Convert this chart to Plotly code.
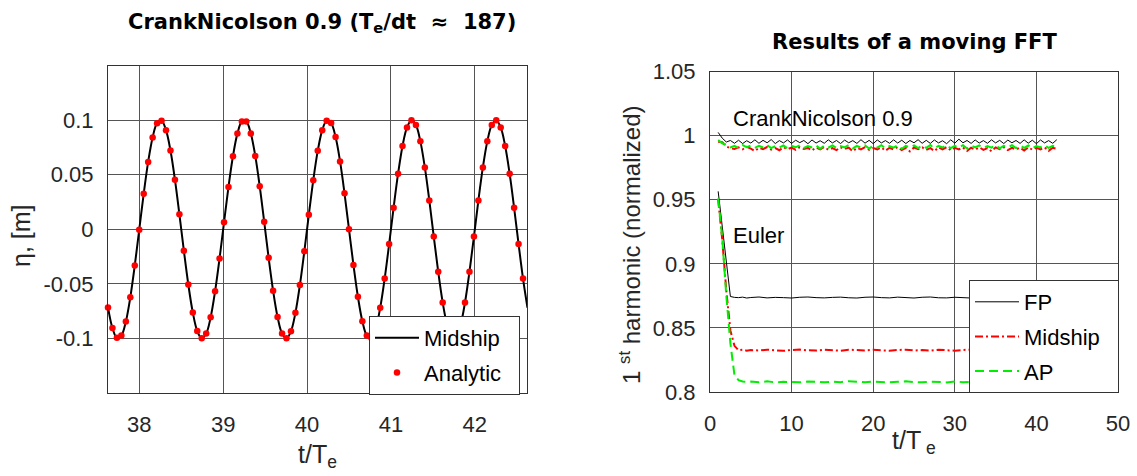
import plotly.graph_objects as go

# ---------------------------------------------------------------------------
# Left panel: wave elevation at midship vs. analytic solution (t/Te)
# ---------------------------------------------------------------------------
t_samples = [
    37.6270, 37.6802, 37.7334, 37.7866, 37.8398, 37.8930, 37.9462, 37.9994,
    38.0526, 38.1058, 38.1590, 38.2122, 38.2654, 38.3186, 38.3718, 38.4250,
    38.4782, 38.5314, 38.5846, 38.6378, 38.6910, 38.7442, 38.7974, 38.8506,
    38.9038, 38.9570, 39.0102, 39.0634, 39.1166, 39.1698, 39.2230, 39.2762,
    39.3294, 39.3826, 39.4358, 39.4890, 39.5422, 39.5954, 39.6486, 39.7018,
    39.7550, 39.8082, 39.8614, 39.9146, 39.9678, 40.0210, 40.0742, 40.1274,
    40.1806, 40.2338, 40.2870, 40.3402, 40.3934, 40.4466, 40.4998, 40.5530,
    40.6062, 40.6594, 40.7126, 40.7658, 40.8190, 40.8722, 40.9254, 40.9786,
    41.0318, 41.0850, 41.1382, 41.1914, 41.2446, 41.2978, 41.3510, 41.4042,
    41.4574, 41.5106, 41.5638, 41.6170, 41.6702, 41.7234, 41.7766, 41.8298,
    41.8830, 41.9362, 41.9894, 42.0426, 42.0958, 42.1490, 42.2022, 42.2554,
    42.3086, 42.3618, 42.4150, 42.4682, 42.5214, 42.5746, 42.6278,
]

eta_midship = [
    -0.0716, -0.0905, -0.0995, -0.0974, -0.0845, -0.0623, -0.0332, -0.0004,
    0.0325, 0.0617, 0.0841, 0.0972, 0.0995, 0.0908, 0.0721, 0.0454,
    0.0137, -0.0196, -0.0507, -0.0762, -0.0932, -0.0999, -0.0956, -0.0807,
    -0.0568, -0.0267, 0.0064, 0.0388, 0.0669, 0.0876, 0.0986, 0.0986,
    0.0878, 0.0672, 0.0393, 0.0069, -0.0262, -0.0564, -0.0804, -0.0955,
    -0.0999, -0.0934, -0.0765, -0.0511, -0.0201, 0.0132, 0.0450, 0.0718,
    0.0906, 0.0995, 0.0973, 0.0844, 0.0621, 0.0329, 0.0001, -0.0327,
    -0.0619, -0.0842, -0.0973, -0.0995, -0.0907, -0.0719, -0.0452, -0.0134,
    0.0198, 0.0509, 0.0763, 0.0933, 0.0999, 0.0955, 0.0805, 0.0566,
    0.0264, -0.0067, -0.0390, -0.0671, -0.0877, -0.0986, -0.0983, -0.0877,
    -0.0671, -0.0390, -0.0067, 0.0264, 0.0566, 0.0805, 0.0955, 0.0999,
    0.0933, 0.0763, 0.0509, 0.0198, -0.0134, -0.0452, -0.0719,
]

eta_analytic = [
    -0.0716, -0.0905, -0.0995, -0.0974, -0.0845, -0.0623, -0.0332, -0.0004,
    0.0325, 0.0617, 0.0841, 0.0972, 0.0995, 0.0908, 0.0721, 0.0454,
    0.0137, -0.0196, -0.0507, -0.0762, -0.0932, -0.0999, -0.0956, -0.0807,
    -0.0568, -0.0267, 0.0064, 0.0388, 0.0669, 0.0876, 0.0986, 0.0986,
    0.0878, 0.0672, 0.0393, 0.0069, -0.0262, -0.0564, -0.0804, -0.0955,
    -0.0999, -0.0934, -0.0765, -0.0511, -0.0201, 0.0132, 0.0450, 0.0718,
    0.0906, 0.0995, 0.0973, 0.0844, 0.0621, 0.0329, 0.0001, -0.0327,
    -0.0619, -0.0842, -0.0973, -0.0995, -0.0907, -0.0719, -0.0452, -0.0134,
    0.0198, 0.0509, 0.0763, 0.0933, 0.0999, 0.0955, 0.0805, 0.0566,
    0.0264, -0.0067, -0.0390, -0.0671, -0.0877, -0.0986, -0.0983, -0.0877,
    -0.0671, -0.0390, -0.0067, 0.0264, 0.0566, 0.0805, 0.0955, 0.0999,
    0.0933, 0.0763, 0.0509, 0.0198, -0.0134, -0.0452,
]

left_xticks = [38, 39, 40, 41, 42]
left_yticks = [-0.1, -0.05, 0, 0.05, 0.1]
left_yticklabels = ["-0.1", "-0.05", "0", "0.05", "0.1"]

# ---------------------------------------------------------------------------
# Right panel: normalised 1st harmonic from a moving FFT
# ---------------------------------------------------------------------------
cn_t = [
    1.0, 1.5, 2.0, 2.5, 3.0, 3.5, 4.0, 4.5, 5.0, 5.5, 6.0, 6.5, 7.0, 7.5,
    8.0, 8.5, 9.0, 9.5, 10.0, 10.5, 11.0, 11.5, 12.0, 12.5, 13.0, 13.5,
    14.0, 14.5, 15.0, 15.5, 16.0, 16.5, 17.0, 17.5, 18.0, 18.5, 19.0, 19.5,
    20.0, 20.5, 21.0, 21.5, 22.0, 22.5, 23.0, 23.5, 24.0, 24.5, 25.0, 25.5,
    26.0, 26.5, 27.0, 27.5, 28.0, 28.5, 29.0, 29.5, 30.0, 30.5, 31.0, 31.5,
    32.0, 32.5, 33.0, 33.5, 34.0, 34.5, 35.0, 35.5, 36.0, 36.5, 37.0, 37.5,
    38.0, 38.5, 39.0, 39.5, 40.0, 40.5, 41.0, 41.5, 42.0, 42.5,
]

cn_fp = [
    1.0025, 0.9980, 0.9950, 0.9962, 0.9940, 0.9964, 0.9938, 0.9960, 0.9942,
    0.9967, 0.9940, 0.9963, 0.9944, 0.9969, 0.9938, 0.9961, 0.9943, 0.9966,
    0.9939, 0.9964, 0.9945, 0.9962, 0.9937, 0.9966, 0.9942, 0.9960, 0.9940,
    0.9967, 0.9943, 0.9962, 0.9938, 0.9965, 0.9944, 0.9961, 0.9939, 0.9968,
    0.9941, 0.9963, 0.9937, 0.9966, 0.9943, 0.9961, 0.9940, 0.9967, 0.9942,
    0.9964, 0.9938, 0.9962, 0.9944, 0.9968, 0.9940, 0.9963, 0.9939, 0.9966,
    0.9943, 0.9960, 0.9937, 0.9967, 0.9941, 0.9972, 0.9944, 0.9962, 0.9939,
    0.9966, 0.9942, 0.9961, 0.9940, 0.9967, 0.9943, 0.9963, 0.9938, 0.9965,
    0.9944, 0.9962, 0.9939, 0.9967, 0.9941, 0.9964, 0.9937, 0.9966, 0.9943,
    0.9961, 0.9940, 0.9968,
]

cn_midship = [
    0.9952, 0.9948, 0.9915, 0.9902, 0.9896, 0.9908, 0.9893, 0.9912, 0.9898,
    0.9880, 0.9905, 0.9895, 0.9911, 0.9890, 0.9903, 0.9886, 0.9909, 0.9894,
    0.9906, 0.9889, 0.9910, 0.9896, 0.9904, 0.9884, 0.9907, 0.9893, 0.9911,
    0.9890, 0.9902, 0.9887, 0.9909, 0.9895, 0.9906, 0.9878, 0.9904, 0.9892,
    0.9910, 0.9889, 0.9903, 0.9893, 0.9908, 0.9882, 0.9905, 0.9891, 0.9911,
    0.9887, 0.9904, 0.9876, 0.9907, 0.9894, 0.9909, 0.9888, 0.9903, 0.9879,
    0.9908, 0.9893, 0.9910, 0.9886, 0.9904, 0.9892, 0.9907, 0.9880, 0.9905,
    0.9891, 0.9909, 0.9889, 0.9903, 0.9877, 0.9908, 0.9894, 0.9910, 0.9887,
    0.9904, 0.9892, 0.9906, 0.9883, 0.9909, 0.9890, 0.9904, 0.9893, 0.9908,
    0.9881, 0.9905, 0.9898,
]

cn_ap = [
    0.9965, 0.9940, 0.9930, 0.9908, 0.9920, 0.9902, 0.9925, 0.9910, 0.9922,
    0.9905, 0.9921, 0.9908, 0.9926, 0.9903, 0.9919, 0.9906, 0.9924, 0.9900,
    0.9920, 0.9909, 0.9925, 0.9904, 0.9918, 0.9907, 0.9923, 0.9898, 0.9921,
    0.9906, 0.9924, 0.9903, 0.9919, 0.9908, 0.9926, 0.9901, 0.9920, 0.9905,
    0.9923, 0.9899, 0.9921, 0.9907, 0.9925, 0.9902, 0.9918, 0.9906, 0.9924,
    0.9897, 0.9920, 0.9908, 0.9923, 0.9903, 0.9921, 0.9905, 0.9926, 0.9900,
    0.9919, 0.9907, 0.9924, 0.9902, 0.9920, 0.9906, 0.9925, 0.9899, 0.9921,
    0.9908, 0.9923, 0.9904, 0.9918, 0.9906, 0.9924, 0.9901, 0.9920, 0.9907,
    0.9925, 0.9903, 0.9921, 0.9905, 0.9923, 0.9900, 0.9919, 0.9908, 0.9924,
    0.9904, 0.9920, 0.9912,
]

eu_t = [
    1.0, 1.5, 2.0, 2.5, 3.0, 3.5, 4.0, 4.5, 5.0, 6.0, 7.0, 8.0, 9.0, 10.0,
    11.0, 12.0, 13.0, 14.0, 15.0, 16.0, 17.0, 18.0, 19.0, 20.0, 21.0, 22.0,
    23.0, 24.0, 25.0, 26.0, 27.0, 28.0, 29.0, 30.0, 31.0, 32.0, 33.0, 34.0,
    35.0, 36.0, 37.0, 38.0, 39.0, 40.0, 41.0, 42.0, 43.0,
]

eu_fp = [
    0.9565, 0.9275, 0.8985, 0.8745, 0.8738, 0.8736, 0.8740, 0.8733, 0.8737,
    0.8741, 0.8734, 0.8738, 0.8736, 0.8733, 0.8739, 0.8741, 0.8736, 0.8734,
    0.8738, 0.8740, 0.8735, 0.8733, 0.8739, 0.8741, 0.8736, 0.8734, 0.8740,
    0.8737, 0.8733, 0.8739, 0.8741, 0.8735, 0.8734, 0.8739, 0.8737, 0.8733,
    0.8740, 0.8738, 0.8734, 0.8736, 0.8740, 0.8735, 0.8733, 0.8738, 0.8740,
    0.8736, 0.8737,
]

eu_midship = [
    0.9500, 0.9190, 0.8790, 0.8480, 0.8360, 0.8326, 0.8330, 0.8322, 0.8327,
    0.8324, 0.8330, 0.8326, 0.8321, 0.8328, 0.8331, 0.8325, 0.8323, 0.8329,
    0.8327, 0.8322, 0.8330, 0.8326, 0.8324, 0.8329, 0.8325, 0.8322, 0.8328,
    0.8330, 0.8324, 0.8327, 0.8323, 0.8329, 0.8326, 0.8322, 0.8328, 0.8330,
    0.8325, 0.8323, 0.8329, 0.8326, 0.8324, 0.8328, 0.8330, 0.8325, 0.8327,
    0.8323, 0.8328,
]

eu_ap = [
    0.9510, 0.9200, 0.8750, 0.8380, 0.8130, 0.8092, 0.8082, 0.8078, 0.8081,
    0.8076, 0.8083, 0.8075, 0.8079, 0.8077, 0.8076, 0.8082, 0.8078, 0.8076,
    0.8080, 0.8077, 0.8084, 0.8078, 0.8076, 0.8081, 0.8077, 0.8075, 0.8080,
    0.8083, 0.8077, 0.8076, 0.8081, 0.8078, 0.8075, 0.8082, 0.8077, 0.8079,
    0.8076, 0.8081, 0.8078, 0.8075, 0.8080, 0.8077, 0.8082, 0.8078, 0.8076,
    0.8080, 0.8078,
]

right_xticks = [0, 10, 20, 30, 40, 50]
right_yticks = [0.8, 0.85, 0.9, 0.95, 1.0, 1.05]
right_yticklabels = ["0.8", "0.85", "0.9", "0.95", "1", "1.05"]

# ---------------------------------------------------------------------------
FONT = "Liberation Sans, Arial, Helvetica, sans-serif"
TITLE_FONT = "DejaVu Sans, Liberation Sans, sans-serif"
TXT = "#262626"
GRID = "#555555"
BOX = "#333333"
W, H = 1137, 476
NB = "\u00a0"

RED_DASHDOT = "8px,3px,2px,3px"
GREEN_DASH = "9px,5px"

fig = go.Figure()

# left panel
fig.add_trace(go.Scatter(
    x=t_samples, y=eta_midship, mode="lines", name="Midship", legendgroup="l_mid",
    line=dict(color="black", width=2, shape="spline"),
    xaxis="x", yaxis="y", legend="legend",
))
fig.add_trace(go.Scatter(
    x=t_samples[:len(eta_analytic)], y=eta_analytic, mode="markers",
    name="Analytic" + NB * 2, legendgroup="l_ana",
    marker=dict(color="#ff0000", size=6.5, line=dict(width=0)),
    cliponaxis=False, xaxis="x", yaxis="y", legend="legend",
))

# right panel: Crank-Nicolson results (no legend entries)
fig.add_trace(go.Scatter(
    x=cn_t, y=cn_fp, mode="lines", showlegend=False,
    line=dict(color="black", width=1), xaxis="x2", yaxis="y2",
))
fig.add_trace(go.Scatter(
    x=cn_t, y=cn_midship, mode="lines", showlegend=False,
    line=dict(color="#ff0000", width=2, dash=RED_DASHDOT), xaxis="x2", yaxis="y2",
))
fig.add_trace(go.Scatter(
    x=cn_t, y=cn_ap, mode="lines", showlegend=False,
    line=dict(color="#00ee00", width=2, dash=GREEN_DASH), xaxis="x2", yaxis="y2",
))

# right panel: Euler results (carry the legend)
fig.add_trace(go.Scatter(
    x=eu_t, y=eu_fp, mode="lines", name="FP", legendgroup="fp",
    line=dict(color="black", width=1), xaxis="x2", yaxis="y2", legend="legend2",
))
fig.add_trace(go.Scatter(
    x=eu_t, y=eu_midship, mode="lines", name="Midship" + NB * 2, legendgroup="mid",
    line=dict(color="#ff0000", width=2, dash=RED_DASHDOT), xaxis="x2", yaxis="y2",
    legend="legend2",
))
fig.add_trace(go.Scatter(
    x=eu_t, y=eu_ap, mode="lines", name="AP", legendgroup="ap",
    line=dict(color="#00ee00", width=2, dash=GREEN_DASH), xaxis="x2", yaxis="y2",
    legend="legend2",
))


def px_x(p):
    return p / W


def px_y(p):
    return (H - p) / H


axis_common = dict(
    showgrid=True, gridcolor=GRID, gridwidth=1, zeroline=False,
    showline=True, linecolor=BOX, linewidth=1, mirror=True, automargin=False,
    ticks="", tickfont=dict(family=FONT, size=22, color=TXT),
)

legend_common = dict(
    xanchor="left", yanchor="top",
    bgcolor="white", bordercolor=BOX, borderwidth=1,
    font=dict(family=FONT, size=22, color="black"),
    itemwidth=44, tracegroupgap=3, traceorder="grouped",
)

fig.update_layout(
    width=W, height=H, autosize=False,
    margin=dict(l=0, r=0, t=0, b=0, pad=0, autoexpand=False),
    paper_bgcolor="white", plot_bgcolor="white",
    font=dict(family=FONT, color=TXT),
    xaxis=dict(
        domain=[px_x(108), px_x(527)], anchor="y", range=[37.627, 42.622],
        tickvals=left_xticks, ticktext=[str(v) for v in left_xticks],
        ticklabelstandoff=12, **axis_common,
    ),
    yaxis=dict(
        domain=[px_y(393), px_y(65.5)], anchor="x", range=[-0.15, 0.15],
        tickvals=left_yticks, ticktext=left_yticklabels,
        ticklabelstandoff=9, **axis_common,
    ),
    xaxis2=dict(
        domain=[px_x(710), px_x(1118)], anchor="y2", range=[0, 50],
        tickvals=right_xticks, ticktext=[str(v) for v in right_xticks],
        ticklabelstandoff=12, **axis_common,
    ),
    yaxis2=dict(
        domain=[px_y(392), px_y(71.5)], anchor="x2", range=[0.8, 1.05],
        tickvals=right_yticks, ticktext=right_yticklabels,
        ticklabelstandoff=9, **axis_common,
    ),
    legend=dict(x=px_x(369), y=px_y(316), **legend_common),
    legend2=dict(x=px_x(969), y=px_y(280), **legend_common),
)

annotations = [
    # panel titles
    dict(text="<b>CrankNicolson 0.9 (T<sub>e</sub>/dt" + NB * 2 + "≈" + NB * 2 + "187)</b>",
         x=px_x(322), y=px_y(23), xref="paper", yref="paper",
         xanchor="center", yanchor="middle", showarrow=False,
         font=dict(family=TITLE_FONT, size=21, color="black")),
    dict(text="<b>Results of a moving FFT</b>",
         x=px_x(914), y=px_y(42), xref="paper", yref="paper",
         xanchor="center", yanchor="middle", showarrow=False,
         font=dict(family=TITLE_FONT, size=21, color="black")),
    # axis titles
    dict(text="t/T<sub>e</sub>", x=px_x(317), y=px_y(456), xref="paper", yref="paper",
         xanchor="center", yanchor="middle", showarrow=False,
         font=dict(family=FONT, size=25, color=TXT)),
    dict(text="t/T<sub>" + NB + "e</sub>", x=px_x(914), y=px_y(442), xref="paper",
         yref="paper", xanchor="center", yanchor="middle", showarrow=False,
         font=dict(family=FONT, size=25, color=TXT)),
    dict(text="η, [m]", x=px_x(21), y=px_y(236), xref="paper", yref="paper",
         xanchor="center", yanchor="middle", showarrow=False, textangle=-90,
         font=dict(family=FONT, size=25, color=TXT)),
    dict(text="1" + NB + "<sup>st</sup>" + NB + "harmonic (normalized)",
         x=px_x(630), y=px_y(245), xref="paper", yref="paper",
         xanchor="center", yanchor="middle", showarrow=False, textangle=-90,
         font=dict(family=FONT, size=24, color=TXT)),
    # scheme labels inside the right panel
    dict(text="CrankNicolson 0.9", x=2.6, y=1.0135, xref="x2", yref="y2",
         xanchor="left", yanchor="middle", showarrow=False,
         font=dict(family=FONT, size=22, color="black")),
    dict(text="Euler", x=2.6, y=0.922, xref="x2", yref="y2",
         xanchor="left", yanchor="middle", showarrow=False,
         font=dict(family=FONT, size=22, color="black")),
]
fig.update_layout(annotations=annotations)

fig.write_html("out.html")
